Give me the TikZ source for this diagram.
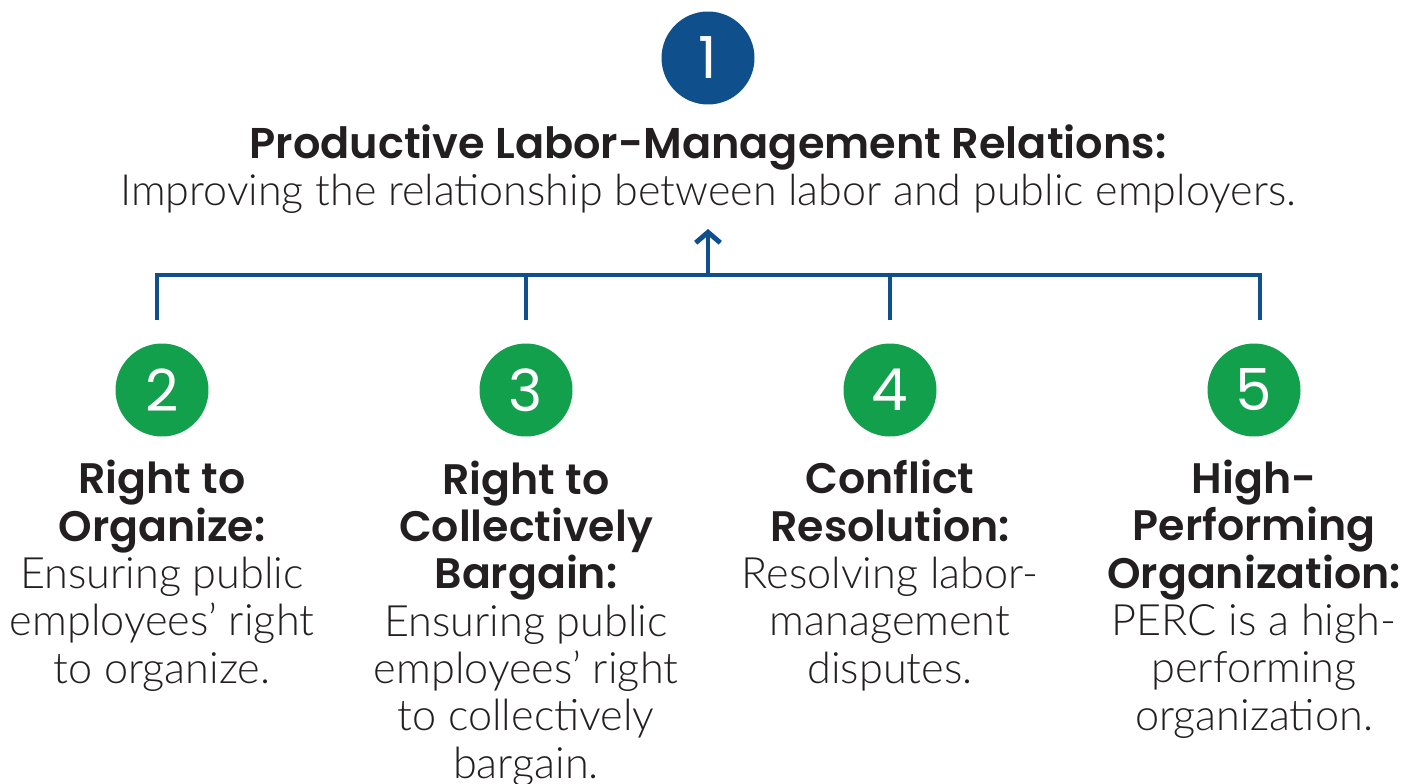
\documentclass[tikz,border=0pt]{standalone}
\usepackage{fontspec}
\setmainfont{Lato}[UprightFont=* Light, BoldFont=* Bold]
\newfontfamily\headfont{Poppins}[UprightFont=* SemiBold]
\newfontfamily\numfont{Poppins}
\usetikzlibrary{arrows.meta}

\definecolor{percblue}{HTML}{0F4F8C}
\definecolor{percgreen}{HTML}{12A04C}
\definecolor{inkgrey}{HTML}{231F20}

% heading lines inside the column texts
\newcommand{\hd}[1]{{\headfont\fontsize{24.3}{26.9}\selectfont #1}}

\tikzset{
  badge/.style={circle, inner sep=0pt, minimum size=1.86cm, text=white,
    font=\numfont\fontsize{33}{33}\selectfont},
  link/.style={draw=percblue, line width=2.8pt},
  coltext/.style={anchor=base, align=center, inner sep=0pt, text=inkgrey,
    font=\fontsize{24.6}{26.9}\selectfont},
}

\begin{document}
\begin{tikzpicture}[x=0.02cm, y=-0.02cm]
  \useasboundingbox (0,0) rectangle (1420,784);

  % top goal
  \node[badge, fill=percblue] (n1) at (708,58) {1};
  \node[anchor=base, inner sep=0pt, text=inkgrey, font=\headfont\fontsize{24.5}{26}\selectfont] (title) at (708,158) {Productive Labor-Management Relations:};
  \node[anchor=base, inner sep=0pt, text=inkgrey, font=\fontsize{24.5}{26}\selectfont] (sub) at (708,205) {Improving the relationship between labor and public employers.};

  % connector bus
  \coordinate (hub) at (708,275);
  \coordinate (tip) at (708,229);
  \coordinate (d2) at (157,320);
  \coordinate (d3) at (526,320);
  \coordinate (d4) at (890,320);
  \coordinate (d5) at (1260,320);
  \draw[link] (d2) -- (d2 |- hub) -- (d5 |- hub) -- (d5);
  \draw[link] (d3) -- (d3 |- hub);
  \draw[link] (d4) -- (d4 |- hub);
  \draw[link, -{Straight Barb[length=6pt, width=14pt]}] (hub) -- (tip);

  % supporting goals (texts hang from the last baseline)
  \node[badge, fill=percgreen] (n2) at (162,390) {2};
  \node[badge, fill=percgreen] (n3) at (526,390) {3};
  \node[badge, fill=percgreen] (n4) at (890,390) {4};
  \node[badge, fill=percgreen] (n5) at (1254,390) {5};

  \node[coltext] (t2) at (162,683) {\hd{Right to}\\\hd{Organize:}\\Ensuring public\\employees’ right\\to organize.};
  \node[coltext] (t3) at (526,778) {\hd{Right to}\\\hd{Collectively}\\\hd{Bargain:}\\Ensuring public\\employees’ right\\to collectively\\bargain.};
  \node[coltext] (t4) at (890,683) {\hd{Conflict}\\\hd{Resolution:}\\Resolving labor-\\management\\disputes.};
  \node[coltext] (t5) at (1254,730) {\hd{High-}\\\hd{Performing}\\\hd{Organization:}\\PERC is a high-\\performing\\organization.};
\end{tikzpicture}
\end{document}
